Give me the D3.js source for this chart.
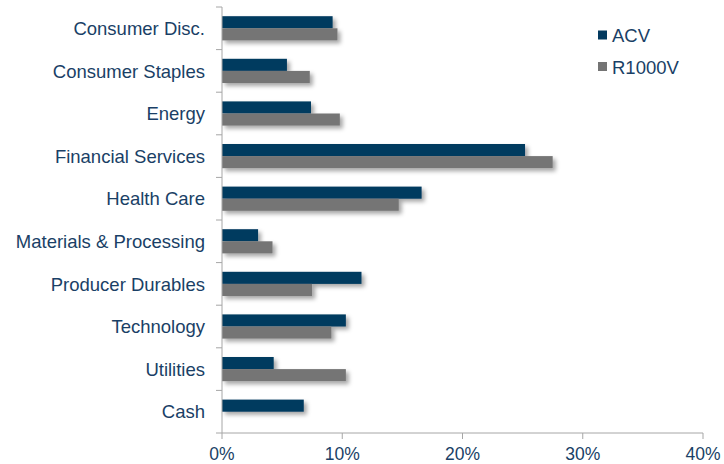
<!DOCTYPE html>
<html><head><meta charset="utf-8">
<script src="https://cdn.jsdelivr.net/npm/d3@7"></script>
<style>body{margin:0;background:#fff}svg{display:block}text{font-family:"Liberation Sans",Arial,sans-serif}</style>
</head><body>
<svg id="c" width="724" height="464"></svg>
<script>
const categories = ["Consumer Disc.","Consumer Staples","Energy","Financial Services","Health Care","Materials & Processing","Producer Durables","Technology","Utilities","Cash"];
const seriesNames = ["ACV","R1000V"];
const acv =    [9.2, 5.4, 7.4, 25.2, 16.6, 3.0, 11.6, 10.3, 4.3, 6.8];
const r1000v = [9.6, 7.3, 9.8, 27.5, 14.7, 4.2, 7.5, 9.1, 10.3, 0];
const xTicks = [0, 10, 20, 30, 40];
const colors = ["#023a5f", "#747474"];
const textColor = "#1a3f66";

const svg = d3.select("#c");
const x = d3.scaleLinear().domain([0, 40]).range([222, 703]);
const y = d3.scaleBand().domain(categories).range([7, 433]);
const inner = d3.scaleBand().domain(seriesNames).range([0, y.bandwidth()]).paddingInner(0).paddingOuter(0.76);

const defs = svg.append("defs");
const f = defs.append("filter").attr("id","sh").attr("x","-10%").attr("y","-30%").attr("width","130%").attr("height","200%");
f.append("feDropShadow").attr("dx",3).attr("dy",3).attr("stdDeviation",2).attr("flood-color","#000").attr("flood-opacity",0.35);

const data = categories.map((c,i)=>({c, vals:[acv[i], r1000v[i]]}));
const g = svg.append("g").attr("filter","url(#sh)");
data.forEach(d=>{
  d.vals.forEach((v,j)=>{
    if (v <= 0) return;
    g.append("rect")
      .attr("x", x(0))
      .attr("y", y(d.c) + inner(seriesNames[j]))
      .attr("width", x(v) - x(0))
      .attr("height", inner.bandwidth())
      .attr("fill", colors[j]);
  });
});

// Y axis
const yAxis = svg.append("g");
yAxis.append("line").attr("x1", x(0)).attr("x2", x(0)).attr("y1", 7).attr("y2", 433).attr("stroke","#a6a6a6");
const yTickPos = categories.map(c=>y(c)).concat([433]);
yAxis.selectAll("line.t").data(yTickPos).join("line").attr("class","t")
  .attr("x1", x(0)-6).attr("x2", x(0)).attr("y1", d=>d).attr("y2", d=>d).attr("stroke","#a6a6a6");
yAxis.selectAll("text").data(categories).join("text")
  .attr("x", 205).attr("y", d=>y(d)+y.bandwidth()/2).attr("dy","0.36em")
  .attr("text-anchor","end").attr("font-size",18.5).attr("fill",textColor).text(d=>d);

// X axis
const xAxis = svg.append("g");
xAxis.append("line").attr("x1", x(0)).attr("x2", x(40)).attr("y1", 433).attr("y2", 433).attr("stroke","#a6a6a6");
xAxis.selectAll("line.t").data(xTicks).join("line").attr("class","t")
  .attr("x1", d=>x(d)).attr("x2", d=>x(d)).attr("y1", 433).attr("y2", 439).attr("stroke","#a6a6a6");
xAxis.selectAll("text").data(xTicks).join("text")
  .attr("x", d=>x(d)).attr("y", 460).attr("text-anchor","middle")
  .attr("font-size",17.5).attr("fill",textColor).text(d=>d+"%");

// Legend
const leg = svg.append("g");
seriesNames.forEach((s,i)=>{
  leg.append("rect").attr("x",598).attr("y",30.5+i*31.5).attr("width",9).attr("height",9).attr("fill",colors[i]);
  leg.append("text").attr("x",612).attr("y",41.5+i*32.5).attr("font-size",18.5).attr("fill",textColor).text(s);
});
</script>
</body></html>
